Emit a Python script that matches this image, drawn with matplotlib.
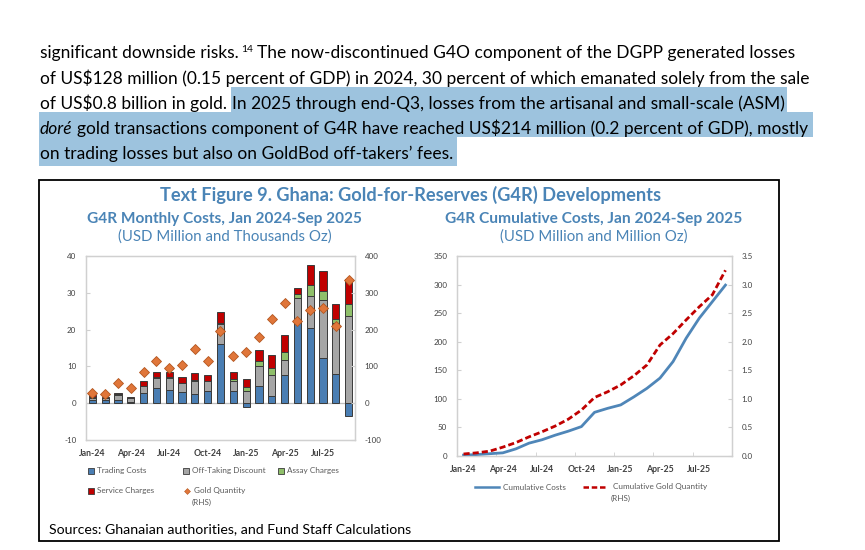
import matplotlib
matplotlib.use("Agg")
import matplotlib.pyplot as plt
from matplotlib.lines import Line2D
from matplotlib.patches import Rectangle
import numpy as np

plt.rcParams["font.family"] = ["Lato", "DejaVu Sans"]
plt.rcParams["axes.unicode_minus"] = False

W, H = 865, 550

# ---- data ----
months = ["Jan-24", "Feb-24", "Mar-24", "Apr-24", "May-24", "Jun-24", "Jul-24",
          "Aug-24", "Sep-24", "Oct-24", "Nov-24", "Dec-24", "Jan-25", "Feb-25",
          "Mar-25", "Apr-25", "May-25", "Jun-25", "Jul-25", "Aug-25", "Sep-25"]

# monthly costs, USD million
trading_costs = [0.9, 0.8, 1.0, 0.2, 2.9, 4.2, 3.5, 3.1, 2.6, 3.3, 16.0, 3.2, -0.9,
                 4.8, 1.9, 7.7, 22.2, 20.4, 12.3, 8.0, -3.6]
offtaking_discount = [0.6, 0.5, 1.3, 1.2, 1.8, 2.6, 3.4, 2.3, 3.3, 2.6, 5.4, 2.8, 3.3,
                      5.4, 5.8, 4.0, 6.3, 8.6, 15.8, 13.8, 23.6]
assay_charges = [0.1, 0.1, 0.1, 0.1, 0.1, 0.2, 0.2, 0.1, 0.3, 0.1, 0.4, 0.5, 1.1,
                 1.2, 1.9, 2.3, 1.1, 3.0, 2.5, 1.1, 3.4]
service_charges = [0.6, 0.3, 0.5, 0.3, 1.1, 1.5, 1.3, 1.6, 2.1, 1.6, 3.0, 2.0, 2.1,
                   3.1, 3.6, 4.6, 1.7, 5.6, 5.4, 4.0, 6.8]
# monthly gold quantity, thousand oz (RHS)
gold_quantity = [29, 26, 56, 40, 86, 116, 97, 103, 146, 116, 196, 128, 140, 179,
                 230, 271, 224, 252, 259, 211, 335]

# cumulative, USD million and million oz (RHS)
cumulative_costs = [1, 2, 3.5, 5, 12, 22, 28, 36, 43, 51, 76, 83, 89, 103, 118,
                    136, 165, 206, 241, 270, 299]
cumulative_gold = [0.03, 0.05, 0.08, 0.15, 0.23, 0.33, 0.42, 0.52, 0.64, 0.80, 1.02,
                   1.12, 1.24, 1.40, 1.59, 1.94, 2.14, 2.38, 2.61, 2.82, 3.25]

# ---- styles ----
c_blue = "#4a7eb3"
c_gray = "#a6a6a6"
c_green = "#8fbf6a"
c_red = "#c00000"
c_orange = "#e0763a"
c_title = "#4a84b6"
c_tick = "#404040"
c_leg = "#595959"
c_frame = "#d0d0d0"
c_hl = "#9dc3de"
edge = "#3a3a3a"
dash = (0, (2.2, 1.1))


def fx(x):
    return x / W


def fy(y):
    return 1 - y / H


fig = plt.figure(figsize=(W / 100, H / 100), dpi=100)
fig.patch.set_facecolor("white")
rend = fig.canvas.get_renderer()


def width_of(t):
    return t.get_window_extent(rend).width


def fit(t, target):
    t.set_fontsize(10)
    t.set_fontsize(10 * target / width_of(t))
    return t


# ---- paragraph above the figure ----
line2 = "of US$128 million (0.15 percent of GDP) in 2024, 30 percent of which emanated solely from the sale"
probe = fit(fig.text(0, 0, line2), 766)
fs = probe.get_fontsize()
probe.remove()

sp = fig.text(0, 0, "a a", fontsize=fs)
sp2 = fig.text(0, 0, "aa", fontsize=fs)
space = width_of(sp) - width_of(sp2)
sp.remove()
sp2.remove()

x0 = 40
base = [58, 84, 109, 134, 159]


def run(x, b, s, **kw):
    kw.setdefault("fontsize", fs)
    t = fig.text(fx(x), fy(b), s, va="baseline", ha="left", color="black", **kw)
    return x + width_of(t)


def highlight(xa, xb, ya, yb):
    fig.add_artist(Rectangle((fx(xa), fy(yb)), fx(xb) - fx(xa), fy(ya) - fy(yb),
                             transform=fig.transFigure, facecolor=c_hl,
                             edgecolor="none", zorder=0))


x = run(x0, base[0], "significant downside risks.")
x = run(x + 2, base[0] - 6, "14", fontsize=fs * 0.6)
run(x + space, base[0], "The now-discontinued G4O component of the DGPP generated losses")

run(x0, base[1], line2)

x = run(x0, base[2], "of US$0.8 billion in gold.")
xs = x + space
xe = run(xs, base[2], "In 2025 through end-Q3, losses from the artisanal and small-scale (ASM)")
highlight(xs - 1, xe + 3, base[2] - 22, base[2] + 3)

x = run(x0, base[3], "doré", style="italic")
xe = run(x + space, base[3], "gold transactions component of G4R have reached US$214 million (0.2 percent of GDP), mostly")
highlight(x0 - 1, xe + 5, base[3] - 22, base[3] + 3)

xe = run(x0, base[4], "on trading losses but also on GoldBod off-takers’ fees.")
highlight(x0 - 1, xe + 4, base[4] - 22, base[4] + 7)

# ---- figure box and titles ----
fig.add_artist(Rectangle((fx(39), fy(541)), fx(779) - fx(39), fy(180) - fy(541),
                         transform=fig.transFigure, facecolor="none",
                         edgecolor="black", lw=1.3, zorder=5))

t = fig.text(fx(410.5), fy(201), "Text Figure 9. Ghana: Gold-for-Reserves (G4R) Developments",
             ha="center", va="baseline", color=c_title, weight="bold")
fit(t, 503)
t = fig.text(fx(224.5), fy(223), "G4R Monthly Costs, Jan 2024-Sep 2025",
             ha="center", va="baseline", color=c_title, weight="bold")
fit(t, 275)
t = fig.text(fx(224.5), fy(241), "(USD Million and Thousands Oz)",
             ha="center", va="baseline", color=c_title)
fit(t, 213)
t = fig.text(fx(593.5), fy(223), "G4R Cumulative Costs, Jan 2024-Sep 2025",
             ha="center", va="baseline", color=c_title, weight="bold")
fit(t, 297)
t = fig.text(fx(594), fy(241), "(USD Million and Million Oz)",
             ha="center", va="baseline", color=c_title)
fit(t, 188)
t = fig.text(fx(49), fy(533), "Sources: Ghanaian authorities, and Fund Staff Calculations",
             ha="left", va="baseline", color="black")
fit(t, 361)

tick_fs = 5.8
xlab_fs = 6.3


def style_axes(ax, axr):
    for a in (ax, axr):
        for s in a.spines.values():
            s.set_color(c_frame)
            s.set_linewidth(0.9)
    ax.tick_params(axis="y", direction="in", length=3, color=c_frame,
                   labelsize=tick_fs, labelcolor=c_tick, pad=7)
    axr.tick_params(axis="y", direction="in", length=3, color=c_frame,
                    labelsize=tick_fs, labelcolor=c_tick, pad=7)
    ax.tick_params(axis="x", length=0, labelsize=xlab_fs, labelcolor=c_tick, pad=6.5)
    for lab in ax.get_xticklabels():
        lab.set_fontweight("bold")


# ---- left panel: monthly costs ----
xi = np.arange(len(months))
trading = np.array(trading_costs)
offt = np.array(offtaking_discount)
assay = np.array(assay_charges)
serv = np.array(service_charges)

ax1 = fig.add_axes([fx(86), fy(440), fx(355) - fx(86), fy(256) - fy(440)])
bw = 0.56
ax1.bar(xi, trading, width=bw, color=c_blue, edgecolor=edge, lw=0.7, zorder=3)
b = np.maximum(trading, 0)
ax1.bar(xi, offt, bottom=b, width=bw, color=c_gray, edgecolor=edge, lw=0.7, zorder=3)
b = b + offt
ax1.bar(xi, assay, bottom=b, width=bw, color=c_green, edgecolor=edge, lw=0.7, zorder=3)
b = b + assay
ax1.bar(xi, serv, bottom=b, width=bw, color=c_red, edgecolor=edge, lw=0.7, zorder=3)
ax1.axhline(0, color="#bfbfbf", lw=0.9, zorder=2)
ax1.set_xlim(-0.5, 20.5)
ax1.set_ylim(-10, 40)
ax1.set_yticks(range(-10, 41, 10))
ax1.set_xticks(xi[::3])
ax1.set_xticklabels(months[::3])

ax1r = ax1.twinx()
ax1r.plot(xi, gold_quantity, "D", ms=4.8, color=c_orange, mec="#b3561f", mew=0.6, zorder=4)
ax1r.set_ylim(-100, 400)
ax1r.set_yticks(range(-100, 401, 100))
style_axes(ax1, ax1r)

# legend (Excel style, fixed column widths)
leg_fs = 5.9


def leg_square(x, y, color, label):
    fig.add_artist(Line2D([fx(x)], [fy(y)], transform=fig.transFigure, marker="s",
                          ms=3.8, color=color, mec=edge, mew=0.6, ls="none"))
    fig.text(fx(x + 6), fy(y), label, fontsize=leg_fs, color=c_leg, va="center", ha="left")


leg_square(91, 471, c_blue, "Trading Costs")
leg_square(186, 471, c_gray, "Off-Taking Discount")
leg_square(281, 471, c_green, "Assay Charges")
leg_square(91, 491, c_red, "Service Charges")
fig.add_artist(Line2D([fx(187)], [fy(491)], transform=fig.transFigure, marker="D",
                      ms=3, color=c_orange, mec="#b3561f", mew=0.4, ls="none"))
fig.text(fx(194), fy(491), "Gold Quantity", fontsize=leg_fs, color=c_leg, va="center")
fig.text(fx(192), fy(502), "(RHS)", fontsize=leg_fs, color=c_leg, va="center")

# ---- right panel: cumulative costs ----
ax2 = fig.add_axes([fx(457), fy(455.7), fx(732) - fx(457), fy(256) - fy(455.7)])
ax2.plot(xi, cumulative_costs, color="#4f86b8", lw=2.0, zorder=3)
ax2.set_xlim(-0.5, 20.5)
ax2.set_ylim(0, 350)
ax2.set_yticks(range(0, 351, 50))
ax2.set_xticks(xi[::3])
ax2.set_xticklabels(months[::3])
ax2.set_xticks(xi[2:18:3] + 0.5, minor=True)
ax2.tick_params(axis="x", which="minor", direction="in", length=3, color=c_frame)

ax2r = ax2.twinx()
ax2r.plot(xi, cumulative_gold, color=c_red, lw=2.0, ls=dash, zorder=4)
ax2r.set_ylim(0, 3.5)
ax2r.set_yticks(np.arange(0, 3.51, 0.5))
ax2r.set_yticklabels([f"{v:.1f}" for v in np.arange(0, 3.51, 0.5)])
style_axes(ax2, ax2r)

fig.add_artist(Line2D([fx(475), fx(499)], [fy(487), fy(487)], transform=fig.transFigure,
                      color="#4f86b8", lw=1.8))
fig.text(fx(503), fy(487), "Cumulative Costs", fontsize=leg_fs, color=c_leg, va="center")
fig.add_artist(Line2D([fx(583), fx(607)], [fy(487), fy(487)], transform=fig.transFigure,
                      color=c_red, lw=1.8, ls=dash))
fig.text(fx(613), fy(487), "Cumulative Gold Quantity", fontsize=leg_fs, color=c_leg, va="center")
fig.text(fx(611), fy(498), "(RHS)", fontsize=leg_fs, color=c_leg, va="center")

fig.savefig("out.png", dpi=100, facecolor="white")
